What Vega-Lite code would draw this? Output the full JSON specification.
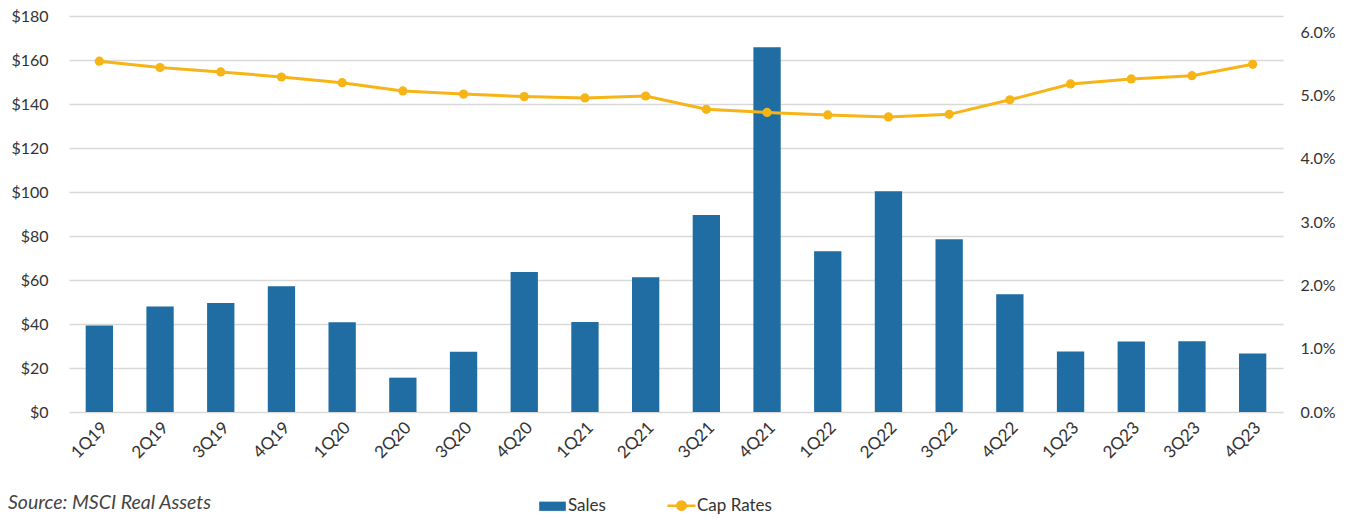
{
  "$schema": "https://vega.github.io/schema/vega-lite/v6.json",
  "autosize": "none",
  "width": 1214,
  "height": 396,
  "padding": {"left": 69, "top": 16, "right": 69, "bottom": 106},
  "background": "white",
  "config": {
    "view": {"stroke": null},
    "font": "Lato",
    "axis": {"labelFont": "Lato", "labelColor": "#333333", "labelFontSize": 16}
  },
  "title": {
    "text": "Source: MSCI Real Assets",
    "orient": "bottom",
    "anchor": "start",
    "frame": "group",
    "dx": -61,
    "offset": -21,
    "font": "Lato",
    "fontSize": 19.5,
    "fontStyle": "italic",
    "fontWeight": "normal",
    "color": "#444444"
  },
  "data": {
    "values": [
      {"q": "1Q19", "sales": 39.3, "cap": 0.0554},
      {"q": "2Q19", "sales": 48.0, "cap": 0.0544},
      {"q": "3Q19", "sales": 49.5, "cap": 0.0537},
      {"q": "4Q19", "sales": 57.2, "cap": 0.0529},
      {"q": "1Q20", "sales": 40.8, "cap": 0.0520},
      {"q": "2Q20", "sales": 15.6, "cap": 0.0507},
      {"q": "3Q20", "sales": 27.4, "cap": 0.0502},
      {"q": "4Q20", "sales": 63.6, "cap": 0.0498},
      {"q": "1Q21", "sales": 40.9, "cap": 0.0496},
      {"q": "2Q21", "sales": 61.2, "cap": 0.0499},
      {"q": "3Q21", "sales": 89.6, "cap": 0.0478},
      {"q": "4Q21", "sales": 165.8, "cap": 0.0473},
      {"q": "1Q22", "sales": 73.1, "cap": 0.0469},
      {"q": "2Q22", "sales": 100.3, "cap": 0.0466},
      {"q": "3Q22", "sales": 78.5, "cap": 0.0470},
      {"q": "4Q22", "sales": 53.5, "cap": 0.0493},
      {"q": "1Q23", "sales": 27.5, "cap": 0.0518},
      {"q": "2Q23", "sales": 32.0, "cap": 0.0526},
      {"q": "3Q23", "sales": 32.2, "cap": 0.0531},
      {"q": "4Q23", "sales": 26.6, "cap": 0.0549}
    ]
  },
  "encoding": {
    "x": {
      "field": "q",
      "type": "nominal",
      "sort": null,
      "title": null,
      "scale": {"paddingInner": 0.55, "paddingOuter": 0.275},
      "axis": {"labelAngle": -45, "labelFontSize": 17, "ticks": false, "domain": false, "labelPadding": 7}
    }
  },
  "layer": [
    {
      "mark": {"type": "bar", "color": "#1f6da2"},
      "encoding": {
        "y": {
          "field": "sales",
          "type": "quantitative",
          "title": null,
          "scale": {"domain": [0, 180], "nice": false},
          "axis": {
            "values": [0, 20, 40, 60, 80, 100, 120, 140, 160, 180],
            "format": "$.0f",
            "domain": false,
            "ticks": false,
            "labelPadding": 21,
            "gridColor": "#d9d9d9",
            "gridWidth": 1.5
          }
        },
        "color": {
          "datum": "Sales",
          "scale": {"domain": ["Sales", "Cap Rates"], "range": ["#1f6da2", "#f7b416"]},
          "legend": {
            "title": null,
            "orient": "none",
            "direction": "horizontal",
            "legendX": 475,
            "legendY": 481,
            "labelFontSize": 17,
            "labelColor": "#333333",
            "labelFont": "Lato",
            "symbolSize": 784,
            "labelOffset": 7,
            "columnPadding": 56,
            "encode": {
              "symbols": {
                "update": {
                  "shape": {"signal": "datum.value === 'Sales' ? 'M-0.95,-0.33H0.95V0.33H-0.95Z' : 'M-1,0H1M-0.3,0A0.3,0.3 0 1,1 0.3,0A0.3,0.3 0 1,1 -0.3,0Z'"},
                  "fill": {"signal": "datum.value === 'Sales' ? '#1f6da2' : '#f7b416'"},
                  "stroke": {"signal": "datum.value === 'Sales' ? '#1f6da2' : '#f7b416'"},
                  "strokeWidth": {"signal": "datum.value === 'Sales' ? 0 : 2.5"},
                  "opacity": {"value": 1}
                }
              }
            }
          }
        }
      }
    },
    {
      "mark": {"type": "line", "strokeWidth": 3, "point": {"filled": true, "size": 85}},
      "encoding": {
        "y": {
          "field": "cap",
          "type": "quantitative",
          "title": null,
          "scale": {"domain": [0, 0.06253], "nice": false},
          "axis": {
            "orient": "right",
            "values": [0, 0.01, 0.02, 0.03, 0.04, 0.05, 0.06],
            "format": ".1%",
            "grid": false,
            "domain": false,
            "ticks": false,
            "labelPadding": 17
          }
        },
        "color": {"datum": "Cap Rates"}
      }
    }
  ],
  "resolve": {"scale": {"y": "independent"}}
}
